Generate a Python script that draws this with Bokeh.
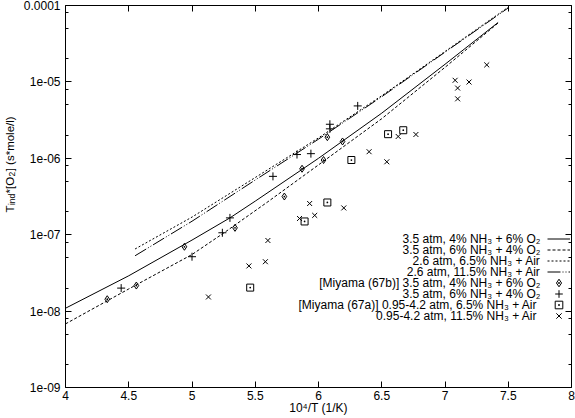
from bokeh.plotting import figure
from bokeh.layouts import row
from bokeh.models import (Range1d, FixedTicker, LinearAxis, LogAxis, CustomJSTickFormatter,
                          Label, Legend, LegendItem)
from bokeh.core.properties import value
from bokeh.embed import file_html
from bokeh.resources import INLINE

# ---------------- data ----------------
# model curves (10^4/T, T_ind*[O2])
c1_x = [4.0, 4.5, 5.0, 5.3, 5.5, 6.0, 6.5, 7.0, 7.42]
c1_y = [1.09e-8, 2.9e-8, 8.5e-8, 1.66e-7, 2.75e-7, 1.0e-6, 3.9e-6, 1.7e-5, 6.0e-5]

c2_x = [4.0, 4.5, 5.0, 5.25, 5.6, 6.0, 6.5, 7.0, 7.42]
c2_y = [6.8e-9, 1.95e-8, 5.5e-8, 1.05e-7, 2.7e-7, 8.2e-7, 3.3e-6, 1.55e-5, 5.9e-5]

c3_x = [4.55, 5.0, 5.5, 6.0, 6.5, 7.0, 7.5]
c3_y = [6.5e-8, 1.7e-7, 5.6e-7, 1.85e-6, 6.6e-6, 2.5e-5, 9.5e-5]

c4_x = [4.55, 5.0, 5.5, 6.0, 6.5, 7.0, 7.5]
c4_y = [5.3e-8, 1.5e-7, 5.2e-7, 1.78e-6, 6.4e-6, 2.45e-5, 9.3e-5]

# experimental points
diamond_x = [4.33, 4.56, 4.94, 5.34, 5.73, 5.87, 6.04, 6.07, 6.19]
diamond_y = [1.43e-8, 2.16e-8, 6.95e-8, 1.23e-7, 3.16e-7, 7.3e-7, 9.5e-7, 1.89e-6, 1.66e-6]

plus_x = [4.44, 5.00, 5.24, 5.30, 5.64, 5.83, 5.94, 6.09, 6.09, 6.31]
plus_y = [2.0e-8, 5.15e-8, 1.06e-7, 1.66e-7, 5.8e-7, 1.12e-6, 1.15e-6, 2.43e-6, 2.79e-6, 4.85e-6]

square_x = [5.46, 5.89, 6.07, 6.26, 6.55, 6.67]
square_y = [2.03e-8, 1.49e-7, 2.64e-7, 9.5e-7, 2.07e-6, 2.33e-6]

cross_x = [5.13, 5.45, 5.58, 5.60, 5.85, 5.93, 5.97, 6.20, 6.40, 6.54, 6.63, 6.77,
           7.08, 7.10, 7.10, 7.19, 7.33]
cross_y = [1.53e-8, 3.9e-8, 4.43e-8, 8.4e-8, 1.63e-7, 2.56e-7, 1.79e-7, 2.24e-7, 1.22e-6,
           9.0e-7, 1.93e-6, 2.05e-6, 1.05e-5, 8.3e-6, 6.0e-6, 9.96e-6, 1.67e-5]

x_ticks = [4, 4.5, 5, 5.5, 6, 6.5, 7, 7.5, 8]
x_tick_labels = ["4", "4.5", "5", "5.5", "6", "6.5", "7", "7.5", "8"]
y_ticks = [1e-9, 1e-8, 1e-7, 1e-6, 1e-5, 1e-4]
y_tick_labels = ["1e-09", "1e-08", "1e-07", "1e-06", "1e-05", "0.0001"]
y_minor_mult = [2, 5, 8]

x_label = "10\u2074/T (1/K)"
# y label pieces: (text, is_subscript)
y_label_parts = [("T", False), ("ind", True), ("*[O", False), ("2", True), ("] (s*mole/l)", False)]

legend_labels = [
    "3.5 atm, 4% NH\u2083 + 6% O\u2082",
    "3.5 atm, 6% NH\u2083 + 4% O\u2082",
    "2.6 atm, 6.5% NH\u2083 + Air",
    "2.6 atm, 11.5% NH\u2083 + Air",
    "[Miyama (67b)] 3.5 atm, 4% NH\u2083 + 6% O\u2082",
    "3.5 atm, 6% NH\u2083 + 4% O\u2082",
    "[Miyama (67a)] 0.95-4.2  atm, 6.5% NH\u2083 + Air",
    "0.95-4.2  atm, 11.5% NH\u2083 + Air",
]

# ---------------- layout ----------------
FONT = "Liberation Sans"
YW = 20                      # width of the strip holding the y label
W, H = 575 - YW, 418
BL, BR, BT, BB = 63 - YW, 4, 5, 31
FW, FH = W - BL - BR, H - BT - BB

p = figure(width=W, height=H, x_range=Range1d(4, 8), y_range=Range1d(1e-9, 1e-4),
           y_axis_type="log", output_backend="svg", toolbar_location=None,
           min_border_left=BL, min_border_right=BR, min_border_top=BT, min_border_bottom=BB)
p.xgrid.visible = False
p.ygrid.visible = False
p.outline_line_color = "black"
p.outline_line_width = 1
p.background_fill_color = "white"
p.border_fill_color = "white"

y_minor = [m * t for t in y_ticks[:-1] for m in y_minor_mult]
xt = FixedTicker(ticks=x_ticks, minor_ticks=[])
yt = FixedTicker(ticks=y_ticks, minor_ticks=y_minor)

xfmt = CustomJSTickFormatter(args=dict(vals=x_ticks, labs=x_tick_labels), code="""
for (let i = 0; i < vals.length; i++) { if (Math.abs(tick - vals[i]) < 1e-9) return labs[i]; }
return '';""")
yfmt = CustomJSTickFormatter(args=dict(vals=y_ticks, labs=y_tick_labels), code="""
for (let i = 0; i < vals.length; i++) { if (Math.abs(Math.log10(tick) - Math.log10(vals[i])) < 1e-6) return labs[i]; }
return '';""")
blank = CustomJSTickFormatter(code="return '';")


def style_axis(ax, show):
    ax.axis_line_color = None
    ax.major_tick_in = 6
    ax.major_tick_out = 0
    ax.minor_tick_in = 3
    ax.minor_tick_out = 0
    ax.major_tick_line_color = "black"
    ax.minor_tick_line_color = "black"
    if show:
        ax.major_label_text_font = FONT
        ax.major_label_text_font_size = "12px"
        ax.major_label_text_color = "black"
    else:
        ax.major_label_text_font_size = "0px"
        ax.major_label_standoff = 0


xa = p.xaxis[0]
xa.ticker = xt
xa.formatter = xfmt
style_axis(xa, True)
xa.major_label_standoff = 3
xa.axis_label = x_label
xa.axis_label_text_font = FONT
xa.axis_label_text_font_size = "12px"
xa.axis_label_text_font_style = "normal"
xa.axis_label_text_color = "black"
xa.axis_label_standoff = -2

ya = p.yaxis[0]
ya.ticker = yt
ya.formatter = yfmt
style_axis(ya, True)
ya.major_label_standoff = 5

top = LinearAxis(ticker=xt, formatter=blank)
style_axis(top, False)
p.add_layout(top, "above")
right = LogAxis(ticker=yt, formatter=blank)
style_axis(right, False)
p.add_layout(right, "right")

# curves
r1 = p.line(c1_x, c1_y, line_color="black", line_width=1)
r2 = p.line(c2_x, c2_y, line_color="black", line_width=1, line_dash="3 2")
r3 = p.line(c3_x, c3_y, line_color="black", line_width=1, line_dash="2 2")
r4 = p.line(c4_x, c4_y, line_color="black", line_width=1, line_dash="13 2 1 2 1 2")

# points
r5 = p.scatter(diamond_x, diamond_y, marker="diamond_dot", size=7, line_color="black",
               fill_color=None, line_width=1)
r6 = p.scatter(plus_x, plus_y, marker="cross", size=8, line_color="black", line_width=1)
r7 = p.scatter(square_x, square_y, marker="square_dot", size=7, line_color="black",
               fill_color=None, line_width=1)
r8 = p.scatter(cross_x, cross_y, marker="x", size=7, line_color="black", line_width=1)

# legend: gnuplot style, text right-aligned, sample to its right; one row per entry
ROW = 11
GH = 19
LEG_X = 482          # frame-relative px of sample column
ROW0 = 72            # frame-relative px (from bottom) of the last row's centre
renderers = [r1, r2, r3, r4, r5, r6, r7, r8]
n = len(renderers)
for i, (txt, r) in enumerate(zip(legend_labels, renderers)):
    yc = ROW0 + (n - 1 - i) * ROW
    p.add_layout(Legend(items=[LegendItem(label=value(" "), renderers=[r])],
                        location=(LEG_X, yc - GH / 2), orientation="vertical",
                        padding=0, spacing=0, margin=0, glyph_width=23, glyph_height=GH,
                        label_width=0, label_height=GH, label_standoff=0,
                        label_text_font_size="1px", border_line_color=None,
                        background_fill_alpha=0))
    p.add_layout(Label(x=LEG_X - 7, y=yc, x_units="screen", y_units="screen", text=txt,
                       text_align="right", text_baseline="middle", text_font=FONT,
                       text_font_size="12px", text_color="black"))

# y label strip (rotated text with subscripts)
ys = figure(width=YW, height=H, x_range=Range1d(0, YW), y_range=Range1d(0, H),
            output_backend="svg", toolbar_location=None, x_axis_location=None,
            y_axis_location=None, min_border=0, outline_line_color=None)
ys.xgrid.visible = False
ys.ygrid.visible = False
ys.background_fill_color = "white"
ys.border_fill_color = "white"

widths = {"T": 7.0, "ind": 11.3, "*[O": 16.6, "2": 4.7, "] (s*mole/l)": 54.9}
pos = 175.0
for txt, sub in y_label_parts:
    ys.add_layout(Label(x=9.5 + (2 if sub else 0), y=pos, x_units="screen", y_units="screen",
                        text=txt, angle=1.5707963, text_font=FONT,
                        text_font_size="8.5px" if sub else "11.5px",
                        text_baseline="alphabetic", text_align="left", text_color="black"))
    pos += widths[txt] + 0.4

layout = row(ys, p, spacing=0)
open("out.html", "w").write(file_html(layout, INLINE))
